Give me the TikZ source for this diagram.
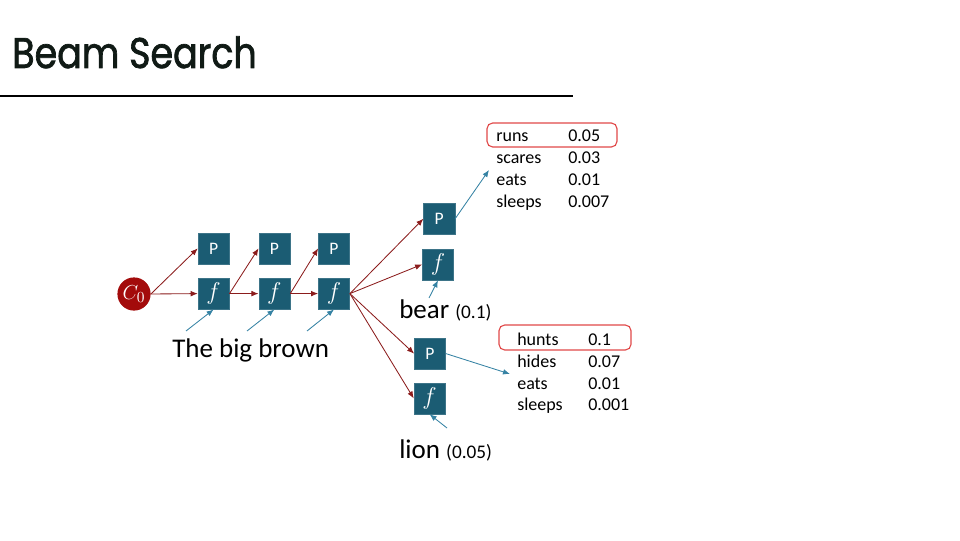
\documentclass[tikz,border=0pt]{standalone}
\usepackage{fontspec}
\setmainfont{Carlito}
\newfontfamily\titlefont{Poppins}[FakeStretch=0.85, FakeBold=1.6]
\usetikzlibrary{arrows.meta}
\definecolor{cellblue}{HTML}{1B5C73}
\definecolor{fwdred}{HTML}{8B1C1C}
\definecolor{inblue}{HTML}{3582A3}
\definecolor{boxred}{HTML}{E04848}
\definecolor{ctxred}{HTML}{A30B0B}
\definecolor{titleink}{HTML}{101A15}

\begin{document}
\begin{tikzpicture}[
  cell/.style={draw=cellblue!85!white, fill=cellblue, text=white, minimum size=0.78cm, inner sep=0pt, font=\fontsize{12.5}{14}\selectfont},
  fwd/.style={draw=fwdred, line width=0.6pt, -{Latex[length=5pt,width=4pt]}},
  inp/.style={draw=inblue, line width=0.6pt, -{Latex[length=5pt,width=4pt]}},
  word/.style={anchor=base west, inner sep=0pt, font=\fontsize{12.8}{15}\selectfont},
  best/.style={draw=boxred, rounded corners=4pt, line width=0.8pt}]
  \useasboundingbox (0,0) rectangle (24,13.5);
  % title
  \node[anchor=base west, inner sep=0pt, text=titleink, font=\titlefont\fontsize{30.5}{34}\selectfont] (title) at (0.3,11.8) {Beam Search};
  \draw[line width=1.4pt] (0,11.1) -- (14.325,11.1);
  % encoder chain
  \node[circle, fill=ctxred, text=white, minimum size=0.83cm, inner sep=0pt, font=\fontsize{15}{17}\selectfont] (c0) at (3.35,6.15) {$C_0$};
  \node[cell] (p1) at (5.34,7.29) {P};
  \node[cell] (f1) at (5.34,6.16) {\fontsize{16}{18}\selectfont$f$};
  \node[cell] (p2) at (6.86,7.29) {P};
  \node[cell] (f2) at (6.86,6.16) {\fontsize{16}{18}\selectfont$f$};
  \node[cell] (p3) at (8.35,7.29) {P};
  \node[cell] (f3) at (8.35,6.16) {\fontsize{16}{18}\selectfont$f$};
  \path (c0.east) edge[fwd] (p1.west) edge[fwd] (f1.west);
  \path (f1.east) edge[fwd] (p2.west) edge[fwd] (f2.west);
  \path (f2.east) edge[fwd] (p3.west) edge[fwd] (f3.west);
  \coordinate (in1) at (4.65,5.225);
  \coordinate (in2) at (6.175,5.225);
  \coordinate (in3) at (7.675,5.225);
  \path (in1) edge[inp] (f1.south) (in2) edge[inp] (f2.south) (in3) edge[inp] (f3.south);
  \node[anchor=base west, inner sep=0pt, font=\fontsize{19.2}{22}\selectfont] (words) at (4.3,4.575) {The big brown};
  % two beams
  \node[cell] (pb) at (10.98,8.03) {P};
  \node[cell] (fb) at (10.95,6.89) {\fontsize{16}{18}\selectfont$f$};
  \node[cell] (pl) at (10.75,4.66) {P};
  \node[cell] (fl) at (10.74,3.54) {\fontsize{16}{18}\selectfont$f$};
  \path (f3.east) edge[fwd] (pb.west) edge[fwd] (fb.west) edge[fwd] (pl.west) edge[fwd] (fl.west);
  \node[anchor=base west, inner sep=0pt, font=\fontsize{19.2}{22}\selectfont] (bear) at (9.975,5.55) {bear {\fontsize{13.7}{16}\selectfont(0.1)}};
  \node[anchor=base west, inner sep=0pt, font=\fontsize{19.2}{22}\selectfont] (lion) at (9.975,2.05) {lion {\fontsize{13.7}{16}\selectfont(0.05)}};
  \coordinate (inb) at (10.725,6.05);
  \coordinate (inl) at (11.175,2.8);
  \path (inb) edge[inp] (fb.south) (inl) edge[inp] (fl.south);
  % next word tables
  \coordinate (outb) at (12.225,9.25);
  \coordinate (outl) at (12.75,4.15);
  \path (pb.east) edge[inp] (outb) (pl.east) edge[inp] (outl);
  \node[best, minimum width=3.25cm, minimum height=0.6cm] (bb) at (13.8,10.125) {};
  \node[word] (b1) at (12.4,9.95) {runs};   \node[word] (b1v) at (14.2,9.95) {0.05};
  \node[word] (b2) at (12.4,9.405) {scares}; \node[word] (b2v) at (14.2,9.405) {0.03};
  \node[word] (b3) at (12.4,8.86) {eats};   \node[word] (b3v) at (14.2,8.86) {0.01};
  \node[word] (b4) at (12.4,8.315) {sleeps}; \node[word] (b4v) at (14.2,8.315) {0.007};
  \node[best, minimum width=3.3cm, minimum height=0.625cm] (lb) at (14.125,5.0625) {};
  \node[word] (l1) at (12.925,4.86) {hunts};  \node[word] (l1v) at (14.7,4.86) {0.1};
  \node[word] (l2) at (12.925,4.317) {hides};  \node[word] (l2v) at (14.7,4.317) {0.07};
  \node[word] (l3) at (12.925,3.774) {eats};   \node[word] (l3v) at (14.7,3.774) {0.01};
  \node[word] (l4) at (12.925,3.23) {sleeps};  \node[word] (l4v) at (14.7,3.23) {0.001};
\end{tikzpicture}
\end{document}
